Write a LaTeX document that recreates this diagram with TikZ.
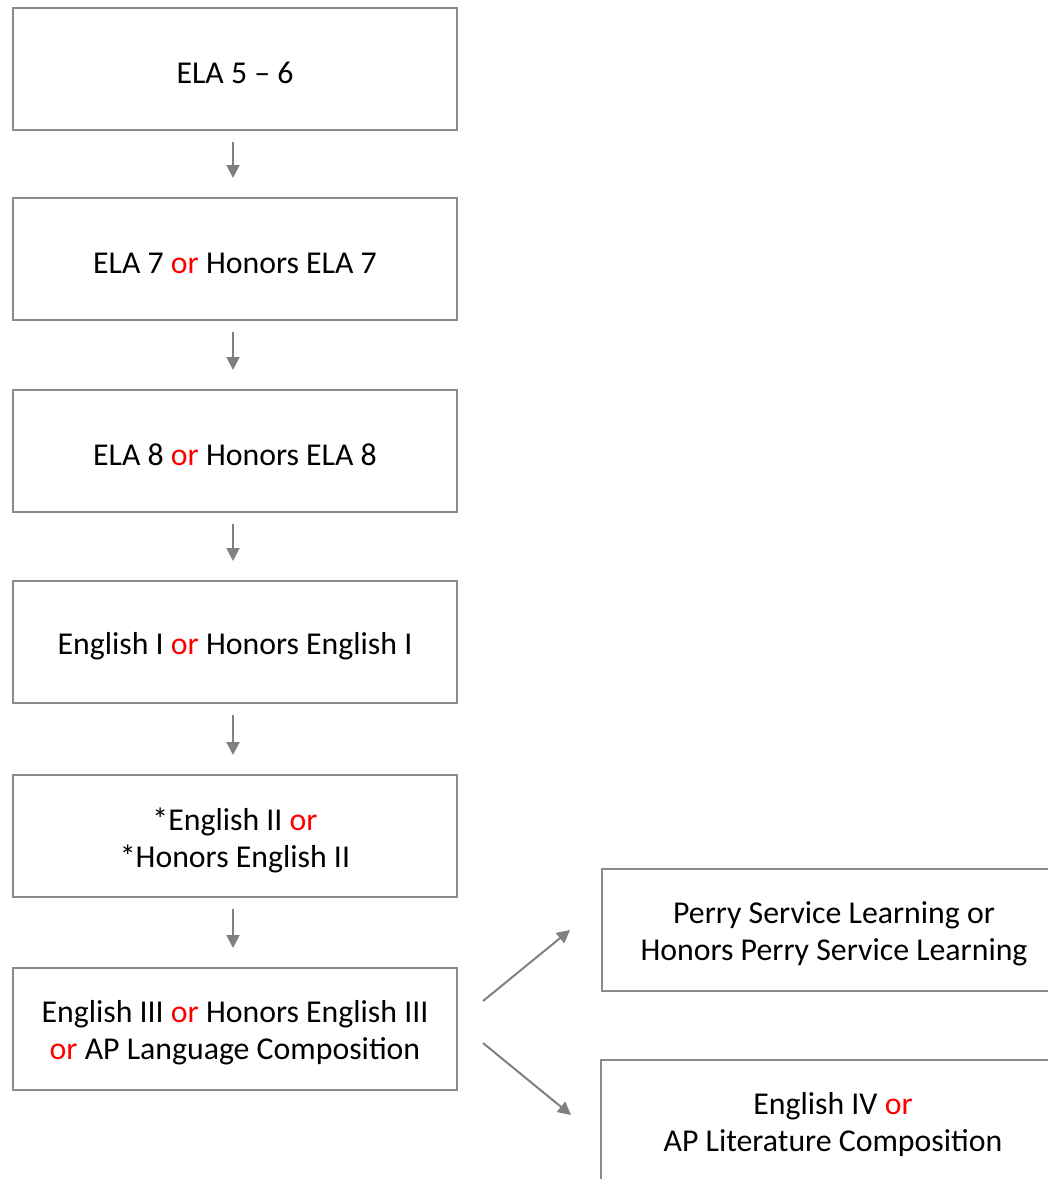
\documentclass[tikz,border=0pt]{standalone}
\usepackage{fontspec}
\setmainfont{Carlito}
\usetikzlibrary{arrows.meta}
\definecolor{boxgray}{HTML}{8A8A8A}
\definecolor{arrowgray}{HTML}{808080}
\newcommand{\ortext}{\textcolor{red}{or}}
\tikzset{
  course/.style={draw=boxgray, line width=1pt, minimum width=222pt, minimum height=61pt,
    inner sep=0pt, outer sep=0pt},
  wide/.style={course, minimum width=232pt},
  coursetext/.style={align=center, yshift=-2pt, inner sep=0pt, font=\fontsize{15.9}{18.5}\selectfont},
  nextarrow/.style={draw=arrowgray, line width=1pt, -{Triangle[length=6.5pt, width=6.5pt]}},
}
\begin{document}
\begin{tikzpicture}[x=0.5pt, y=-0.5pt]
		%%%%% START %%%%%
		
		\clip (0, 0) rectangle (1048, 1179);
		\fill[white] (0, 0) rectangle (1048, 1179);
		
		% left column
		\node[course, label={[coursetext]center:{ELA 5 -- 6}}] (ela56) at (235, 69) {};
		\node[course, label={[coursetext]center:{ELA 7 \ortext{} Honors ELA 7}}] (ela7) at (235, 259) {};
		\node[course, label={[coursetext]center:{ELA 8 \ortext{} Honors ELA 8}}] (ela8) at (235, 451) {};
		\node[course, label={[coursetext]center:{English I \ortext{} Honors English I}}] (eng1) at (235, 642) {};
		\node[course, label={[coursetext]center:{*English II \ortext\\*Honors English II}}] (eng2) at (235, 836) {};
		\node[course, label={[coursetext]center:{English III \ortext{} Honors English III\\\ortext{} AP Language Composition}}] (eng3) at (235, 1029) {};
		
		% right column
		\node[wide, label={[coursetext]center:{Perry Service Learning or\\Honors Perry Service Learning}}] (perry) at (834, 930) {};
		\node[wide, label={[coursetext]center:{English IV \ortext\\AP Literature Composition}}] (eng4) at (833, 1121) {};
		
		\foreach \from/\to in {ela56/ela7, ela7/ela8, ela8/eng1, eng1/eng2, eng2/eng3}
			\draw[nextarrow, shorten <=6pt, shorten >=10pt] ([xshift=-1pt]\from.south) -- ([xshift=-1pt]\to.north);
		
		\draw[nextarrow] ([shift={(26,-28)}]eng3.east) -- ([shift={(-32,0)}]perry.west);
		\draw[nextarrow] ([shift={(26,14)}]eng3.east) -- ([shift={(-30,-6)}]eng4.west);
		
		%%%%% END %%%%%
	\end{tikzpicture}
\end{document}
